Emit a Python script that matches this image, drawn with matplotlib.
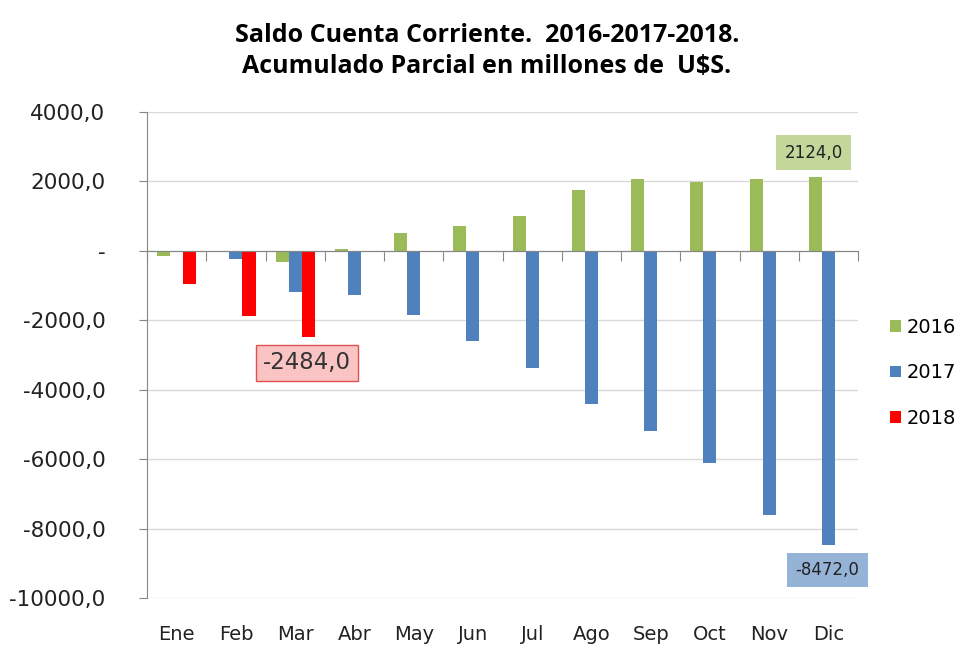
import numpy as np
import matplotlib.pyplot as plt

months = ["Ene", "Feb", "Mar", "Abr", "May", "Jun", "Jul", "Ago", "Sep", "Oct", "Nov", "Dic"]
s2016 = [-150, -50, -330, 50, 520, 700, 1000, 1760, 2070, 1980, 2070, 2124]
s2017 = [0, -250, -1180, -1270, -1850, -2600, -3370, -4420, -5200, -6100, -7600, -8472]
s2018 = [-950, -1880, -2484]

green = "#9bbb59"
blue = "#4f81bd"
red = "#ff0000"

fig = plt.figure(figsize=(9.74, 6.46), dpi=100)
ax = fig.add_axes([0.151, 0.074, 0.730, 0.753])

x = np.arange(len(months))
w = 0.22
ax.bar(x - w, s2016, w, color=green, label="2016", zorder=3)
ax.bar(x, s2017, w, color=blue, label="2017", zorder=3)
ax.bar(x[:len(s2018)] + w, s2018, w, color=red, label="2018", zorder=3)

ax.set_xlim(-0.5, len(months) - 0.5)
ax.set_ylim(-10000, 4000)
ax.set_yticks(np.arange(-10000, 4001, 2000))
ax.set_yticklabels(["-" if v == 0 else f"{v},0" for v in range(-10000, 4001, 2000)])
ax.yaxis.grid(True, color="#d9d9d9", linewidth=1, zorder=0)

for s in ["top", "right"]:
    ax.spines[s].set_visible(False)
ax.spines["left"].set_color("#868686")
ax.spines["bottom"].set_position(("data", 0))
ax.spines["bottom"].set_color("#868686")
ax.spines["bottom"].set_zorder(4)
ax.set_xticks(np.arange(-0.5, len(months), 1))
ax.tick_params(axis="x", length=7, color="#868686", labelbottom=False)
ax.tick_params(axis="y", length=6, color="#868686", labelsize=15.5, pad=24, labelcolor="#222222")

sec = ax.secondary_xaxis(0)
sec.set_xticks(x)
sec.set_xticklabels(months)
sec.tick_params(length=0, labelsize=14, pad=19, labelcolor="#222222")
sec.spines["bottom"].set_visible(False)

ax.text(11 - 0.25, 2824, "2124,0", ha="center", va="center", fontsize=12, color="#222222",
        bbox=dict(boxstyle="square,pad=0.5", fc="#c4d79b", ec="none"), zorder=5)
ax.text(11 - 0.02, -9190, "-8472,0", ha="center", va="center", fontsize=12, color="#222222",
        bbox=dict(boxstyle="square,pad=0.5", fc="#95b3d7", ec="none"), zorder=5)
ax.text(2.2, -3230, "-2484,0", ha="center", va="center", fontsize=16.5, color="#333333",
        bbox=dict(boxstyle="square,pad=0.3", fc="#fbc4c4", ec="#e05050", lw=1), zorder=5)

leg = ax.legend(loc="center left", bbox_to_anchor=(1.045, 0.463), frameon=False, fontsize=14,
                handlelength=0.55, handleheight=0.55, handletextpad=0.3, labelspacing=1.35,
                borderpad=0, borderaxespad=0)

fig.suptitle("Saldo Cuenta Corriente.  2016-2017-2018.\nAcumulado Parcial en millones de  U$S.",
             fontsize=18, fontweight="bold", y=0.965, linespacing=1.35, family="Open Sans")

fig.savefig("out.png", dpi=100)
